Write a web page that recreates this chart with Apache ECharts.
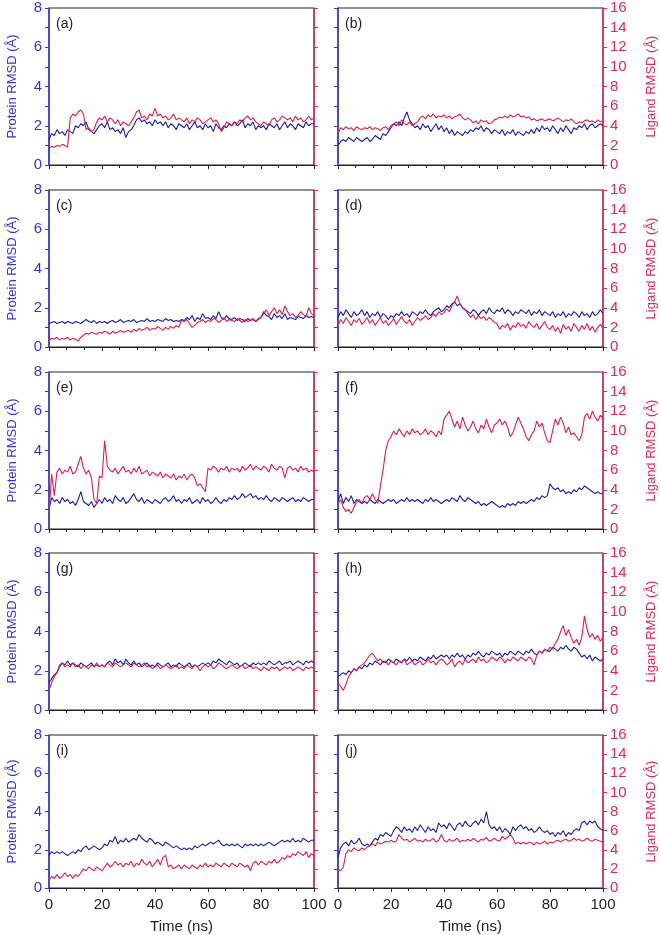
<!DOCTYPE html>
<html>
<head>
<meta charset="utf-8">
<script src="https://cdn.jsdelivr.net/npm/echarts@6/dist/echarts.min.js"></script>
<style>
  html, body { margin: 0; padding: 0; background: #fff; }
  #chart { width: 660px; height: 935px; }
</style>
</head>
<body>
<div id="chart"></div>
<script>
// time axis, 0..100 ns, one point per ns
const time = [
  0,1,2,3,4,5,6,7,8,9,10,11,12,13,14,15,16,17,18,19,20,21,22,23,24,25,26,27,28,29,
  30,31,32,33,34,35,36,37,38,39,40,41,42,43,44,45,46,47,48,49,50,51,52,53,54,55,56,57,58,59,
  60,61,62,63,64,65,66,67,68,69,70,71,72,73,74,75,76,77,78,79,80,81,82,83,84,85,86,87,88,89,
  90,91,92,93,94,95,96,97,98,99,100
]
const labels = ['(a)', '(b)', '(c)', '(d)', '(e)', '(f)', '(g)', '(h)', '(i)', '(j)']

// protein RMSD (Å, left axis 0-8) and ligand RMSD (Å, right axis 0-16)
const protA = [1.3,1.6,1.5,1.8,1.6,1.7,1.5,1.8,1.7,1.6, 2.0,1.9,2.1,2.0,2.2,1.8,1.7,1.6,1.8,2.0, 2.1,1.9,2.2,1.8,1.9,1.7,1.8,1.6,1.9,1.4, 1.7,1.8,2.0,2.3,2.4,2.2,2.3,2.1,2.2,2.0, 2.3,2.1,2.2,2.0,2.2,1.9,2.1,2.0,1.8,2.1, 2.0,1.9,2.1,1.8,2.0,2.2,1.9,2.0,1.8,2.1, 1.9,2.0,1.7,2.1,1.9,1.8,2.0,1.9,2.1,2.0, 2.2,2.0,2.1,2.3,1.9,2.1,2.0,2.2,1.8,2.0, 1.9,2.0,1.8,2.1,2.0,1.9,2.1,1.8,2.0,2.2, 1.9,2.1,2.0,1.8,2.1,2.0,1.9,2.2,2.0,2.1,2.1]
const ligA = [1.7,1.9,1.8,2.0,1.9,2.1,2.0,1.8,4.8,5.2, 5.0,5.4,5.6,5.2,3.6,3.8,3.4,3.6,4.4,4.8, 4.6,5.0,4.4,4.8,4.6,4.2,4.6,4.0,4.4,4.2, 4.0,4.4,4.8,5.4,5.6,4.8,5.0,4.6,5.2,5.0, 5.8,5.0,5.2,4.8,5.0,4.6,4.8,5.2,4.6,4.8, 4.6,4.4,4.8,4.2,4.6,4.4,4.8,4.6,4.2,4.4, 4.6,4.8,4.4,4.6,4.2,3.4,3.8,4.4,4.2,4.0, 4.4,4.2,4.6,4.4,4.8,5.0,4.6,4.8,4.4,4.2, 4.0,4.4,4.2,4.0,4.6,4.8,4.4,4.6,5.0,4.8, 4.6,4.8,4.4,5.0,4.6,4.8,4.4,4.6,5.0,4.6,4.8]

const protB = [1.0,1.2,1.3,1.2,1.4,1.3,1.2,1.4,1.3,1.2, 1.3,1.4,1.2,1.3,1.5,1.4,1.3,1.6,1.5,1.7, 1.9,2.1,2.0,2.2,2.0,2.4,2.7,2.3,2.1,1.9, 2.0,1.8,2.1,1.9,2.0,1.7,1.9,2.1,1.8,2.0, 1.7,1.9,1.6,1.8,1.5,1.7,1.6,1.5,1.7,1.6, 1.8,1.7,1.9,1.8,2.0,1.7,1.9,1.8,1.6,1.8, 1.7,1.6,1.8,1.5,1.7,1.6,1.8,1.5,1.7,1.6, 1.5,1.7,1.6,1.8,1.6,1.9,1.7,2.0,1.8,1.9, 1.7,2.0,1.8,1.6,1.9,1.7,2.0,1.8,1.6,1.9, 1.8,2.0,1.9,2.1,1.8,2.0,2.1,1.9,2.0,2.1,2.0]
const ligB = [3.2,3.8,3.6,3.9,3.7,3.8,3.5,3.9,3.7,3.6, 3.8,3.7,3.9,3.6,3.8,3.7,3.5,3.8,3.9,3.6, 4.0,4.2,4.4,4.0,4.6,4.2,4.1,4.4,4.0,4.2, 4.4,4.8,5.0,4.7,5.1,4.9,5.2,4.8,5.0,4.9, 5.1,4.8,5.0,4.7,4.9,5.0,5.2,4.8,4.6,4.8, 4.6,4.3,4.5,4.2,4.6,4.4,4.5,4.2,4.3,4.6, 4.7,4.9,4.8,5.0,4.8,5.1,4.9,5.0,5.2,4.9, 5.0,4.8,4.9,4.6,4.7,4.5,4.6,4.7,4.5,4.6, 4.7,4.5,4.6,4.8,4.6,4.4,4.6,4.5,4.7,4.4, 4.2,4.4,4.3,4.5,4.6,4.4,4.5,4.3,4.6,4.4,4.5]

const protC = [1.2,1.25,1.3,1.2,1.25,1.3,1.2,1.3,1.25,1.2, 1.3,1.25,1.2,1.3,1.4,1.3,1.25,1.35,1.2,1.3, 1.25,1.3,1.2,1.3,1.35,1.25,1.3,1.4,1.25,1.3, 1.35,1.3,1.4,1.25,1.3,1.35,1.3,1.45,1.3,1.35, 1.3,1.4,1.35,1.3,1.45,1.35,1.4,1.3,1.35,1.3, 1.4,1.35,1.5,1.4,1.6,1.3,1.5,1.4,1.7,1.45, 1.5,1.4,1.6,1.45,1.8,1.5,1.4,1.6,1.45,1.4, 1.5,1.35,1.45,1.4,1.3,1.45,1.35,1.4,1.3,1.45, 1.5,1.8,1.6,1.55,1.4,1.7,1.5,1.6,1.45,1.7, 1.4,1.5,1.45,1.4,1.55,1.5,1.45,1.6,1.5,1.55,1.5]
const ligC = [0.6,0.9,0.8,1.0,0.7,0.9,0.8,1.0,0.7,0.9, 0.8,0.6,1.0,1.2,1.4,1.3,1.5,1.4,1.3,1.5, 1.4,1.6,1.5,1.3,1.6,1.4,1.5,1.7,1.5,1.6, 1.7,1.5,1.8,1.6,1.9,1.7,1.8,2.0,1.7,1.9, 1.8,2.1,1.9,1.7,2.0,1.8,2.1,1.9,2.2,2.0, 2.7,2.6,2.8,2.4,2.0,2.2,2.5,2.6,2.8,2.5, 2.7,2.6,2.9,2.8,2.5,2.7,3.0,2.6,2.8,2.7, 2.6,2.9,2.7,2.5,2.8,2.6,2.7,2.9,2.6,2.8, 3.0,3.4,3.8,3.2,3.6,4.0,3.4,3.8,3.3,4.2, 3.6,3.2,3.4,3.0,3.2,3.6,3.3,3.1,4.0,3.4,3.2]

const protD = [1.5,1.8,1.6,1.9,1.7,1.5,1.8,1.6,1.7,1.9, 1.6,1.8,1.5,1.7,1.6,1.8,1.5,1.7,1.6,1.4, 1.6,1.5,1.7,1.6,1.8,1.6,1.7,1.5,1.8,1.7, 1.6,1.8,1.7,1.9,1.7,1.6,1.8,1.9,2.0,1.8, 1.9,2.1,2.0,2.2,2.3,2.1,2.2,2.0,1.9,1.8, 1.7,1.9,1.8,1.6,1.8,1.9,1.7,2.0,1.8,1.7, 1.9,1.8,2.0,1.7,1.9,1.8,1.6,1.8,1.7,1.9, 1.8,1.7,1.9,1.6,1.8,1.7,1.9,1.6,1.8,1.7, 1.6,1.8,1.5,1.7,1.6,1.8,1.5,1.7,1.6,1.8, 1.7,1.5,1.8,1.6,1.7,1.5,1.8,1.6,1.7,1.9,1.7]
const ligD = [2.2,2.8,2.4,3.0,2.6,2.2,2.8,2.5,2.9,2.3, 2.6,3.0,2.4,2.8,2.2,2.6,3.0,2.4,2.7,2.2, 2.5,2.9,2.3,2.7,3.1,2.6,2.4,2.8,2.2,2.6, 3.0,2.7,2.9,3.2,2.8,3.0,3.4,3.1,3.6,3.3, 3.5,3.9,3.6,4.2,4.6,5.2,4.4,4.0,3.8,3.4, 3.0,3.3,2.8,3.2,2.9,3.1,2.7,3.0,2.8,2.5, 2.4,1.8,2.2,2.0,2.4,1.7,2.2,2.0,2.5,2.1, 2.3,1.9,2.6,2.2,2.0,2.4,1.8,2.2,2.6,2.0, 1.8,2.2,1.6,2.0,1.4,2.3,1.8,2.1,1.6,2.4, 2.0,1.6,2.2,1.8,2.4,1.7,2.1,1.5,2.0,2.3,1.9]

const protE = [1.0,1.6,1.4,1.5,1.3,1.6,1.4,1.5,1.3,1.4, 1.2,1.5,1.9,1.4,1.3,1.2,1.4,1.1,1.3,1.5, 1.3,1.6,1.4,1.5,1.3,1.7,1.5,1.4,1.6,1.3, 1.4,1.6,1.8,1.5,1.4,1.6,1.3,1.5,1.4,1.3, 1.5,1.4,1.3,1.5,1.6,1.4,1.5,1.7,1.4,1.5, 1.3,1.5,1.4,1.6,1.3,1.4,1.5,1.3,1.6,1.4, 1.5,1.3,1.4,1.6,1.4,1.3,1.5,1.4,1.6,1.5, 1.7,1.5,1.6,1.8,1.6,1.7,1.8,1.6,1.7,1.5, 1.6,1.5,1.7,1.5,1.4,1.6,1.5,1.4,1.6,1.5, 1.4,1.5,1.6,1.4,1.5,1.4,1.6,1.5,1.4,1.5,1.5]
const ligE = [1.6,5.6,3.4,5.8,6.2,5.6,6.0,5.8,6.4,5.6, 5.8,6.6,7.4,6.2,5.6,6.0,5.2,3.0,2.6,5.4, 5.2,9.0,6.4,6.0,5.8,6.2,5.6,6.0,6.4,5.8, 6.0,5.6,6.2,5.8,6.4,5.6,5.8,6.0,5.4,5.8, 5.6,5.4,5.8,5.2,5.6,5.4,5.2,5.6,5.0,5.4, 5.2,5.6,5.0,5.4,5.6,5.2,4.4,4.6,4.2,3.8, 6.2,6.0,6.4,6.2,5.8,6.2,6.0,6.4,5.8,6.2, 6.0,6.2,5.8,6.4,6.0,6.2,6.6,6.0,6.4,6.2, 6.0,6.4,6.2,5.8,6.6,6.2,6.0,6.4,6.2,5.2, 6.2,6.4,6.0,6.2,5.8,6.4,6.0,6.2,5.8,6.0,5.8]

const protF = [1.4,1.8,1.3,1.6,1.4,1.7,1.3,1.5,1.4,1.3, 1.4,1.3,1.5,1.4,1.3,1.5,1.4,1.3,1.4,1.5, 1.4,1.5,1.3,1.4,1.5,1.4,1.6,1.4,1.5,1.4, 1.5,1.4,1.3,1.5,1.4,1.6,1.4,1.5,1.4,1.3, 1.4,1.5,1.4,1.6,1.5,1.4,1.7,1.5,1.4,1.6, 1.5,1.4,1.3,1.4,1.2,1.3,1.2,1.3,1.4,1.3, 1.2,1.1,1.2,1.1,1.3,1.2,1.3,1.2,1.4,1.3, 1.4,1.3,1.4,1.5,1.4,1.6,1.5,1.7,1.6,1.7, 2.3,2.1,2.0,2.1,1.9,2.0,1.8,1.9,1.8,2.0, 1.9,2.1,2.0,2.2,2.1,2.0,1.9,1.8,1.9,1.8,1.8]
const ligF = [2.6,3.0,2.2,1.8,2.0,1.6,2.2,2.8,3.0,2.6, 3.2,3.4,3.0,3.6,3.0,2.6,4.4,6.0,8.0,9.0, 9.4,10.0,9.6,10.2,9.8,9.4,10.0,9.6,10.2,9.8, 10.0,9.6,9.8,10.2,9.6,10.0,9.8,9.4,10.0,9.6, 11.2,11.6,12.0,11.2,10.4,11.0,10.2,11.4,10.6,10.0, 10.4,11.0,10.2,9.8,10.6,10.2,11.2,10.4,9.8,10.6, 10.8,11.2,10.6,11.0,10.4,9.4,9.8,10.6,11.4,10.8, 10.2,9.4,9.0,9.6,10.0,11.0,10.4,10.8,9.8,9.0, 8.8,10.0,11.2,10.6,11.4,10.8,9.8,10.4,9.6,9.8, 9.4,9.0,9.6,11.4,11.8,11.2,12.0,11.4,11.0,11.6,11.2]

const protG = [1.4,1.6,1.8,1.9,2.2,2.4,2.3,2.5,2.3,2.4, 2.3,2.2,2.4,2.3,2.2,2.3,2.4,2.2,2.3,2.2, 2.3,2.2,2.4,2.5,2.3,2.6,2.4,2.5,2.3,2.6, 2.4,2.3,2.5,2.3,2.4,2.2,2.3,2.4,2.2,2.3, 2.2,2.4,2.3,2.2,2.3,2.4,2.2,2.3,2.2,2.4, 2.3,2.2,2.3,2.4,2.2,2.3,2.2,2.3,2.4,2.3, 2.4,2.3,2.5,2.4,2.6,2.5,2.4,2.3,2.5,2.4, 2.3,2.4,2.2,2.3,2.4,2.3,2.2,2.4,2.3,2.4, 2.3,2.4,2.3,2.5,2.4,2.3,2.4,2.5,2.3,2.4, 2.4,2.5,2.3,2.4,2.5,2.4,2.3,2.5,2.4,2.5,2.4]
const ligG = [2.0,2.8,3.4,3.8,4.6,4.8,4.4,4.6,4.4,4.8, 4.4,4.6,4.2,4.6,4.4,4.2,4.6,4.4,4.8,4.4, 4.6,4.4,4.8,4.6,4.4,4.8,4.6,4.4,4.6,4.8, 4.6,4.4,4.8,4.6,4.4,4.6,4.8,4.4,4.6,4.2, 4.4,4.6,4.2,4.4,4.6,4.4,4.2,4.4,4.6,4.2, 4.4,4.2,4.6,4.4,4.2,4.6,4.4,4.0,4.4,4.6, 4.4,4.6,4.2,4.4,4.8,4.6,4.4,4.2,4.4,4.6, 4.4,4.2,4.4,4.6,4.2,4.4,4.6,4.2,4.4,4.2, 4.0,4.4,4.2,4.0,4.4,4.2,4.4,4.0,4.2,4.4, 4.2,4.4,4.0,4.2,4.4,4.2,4.0,4.4,4.2,4.4,4.2]

const protH = [1.7,1.8,1.9,1.8,2.0,1.9,2.1,2.0,2.2,2.1, 2.3,2.2,2.4,2.3,2.5,2.4,2.3,2.5,2.4,2.6, 2.5,2.4,2.6,2.5,2.4,2.6,2.5,2.7,2.5,2.6, 2.5,2.7,2.6,2.5,2.7,2.6,2.8,2.6,2.7,2.8, 2.7,2.8,2.6,2.8,2.7,2.9,2.7,2.8,2.6,2.8, 2.7,2.9,2.8,3.0,2.8,2.7,2.9,2.8,3.0,2.9, 2.8,2.9,2.7,2.9,2.8,3.0,2.9,2.8,3.0,2.9, 2.8,3.0,2.9,3.1,2.9,2.8,3.0,2.9,3.1,3.0, 3.0,3.2,3.1,3.0,3.2,3.1,3.3,3.1,3.0,3.2, 3.1,2.9,2.7,2.8,2.6,2.8,2.5,2.7,2.6,2.5,2.6]
const ligH = [2.8,2.4,2.0,2.6,3.4,3.8,4.2,4.0,4.4,4.6, 4.8,5.2,5.6,5.8,5.4,5.0,5.2,4.8,5.0,4.6, 5.0,4.8,4.6,5.0,4.8,5.2,4.6,4.8,5.0,4.6, 4.8,5.0,4.6,4.8,5.2,4.8,5.0,4.6,5.0,5.2, 5.0,4.6,4.8,5.2,4.4,4.8,5.0,4.6,5.2,4.8, 5.0,5.2,4.8,5.4,5.0,5.2,4.8,5.0,5.4,5.2, 5.0,5.4,5.2,4.8,5.2,5.0,5.4,5.2,5.0,5.4, 5.2,5.0,5.4,5.2,4.6,5.6,6.0,5.8,6.2,6.0, 6.4,6.2,6.8,7.2,8.0,8.6,7.6,8.2,7.4,6.8, 7.2,6.6,7.4,9.6,8.2,7.4,7.8,7.2,7.6,7.0,7.4]

const protI = [1.7,1.9,1.8,1.9,1.8,1.9,1.8,1.7,1.8,1.9, 1.8,2.0,1.9,2.1,2.2,2.0,2.1,2.2,2.1,2.0, 2.1,2.3,2.2,2.5,2.4,2.7,2.3,2.5,2.4,2.6, 2.4,2.5,2.6,2.5,2.8,2.6,2.5,2.4,2.6,2.5, 2.3,2.4,2.3,2.2,2.4,2.3,2.2,2.1,2.2,2.1, 2.0,2.1,2.0,2.1,2.0,2.2,2.1,2.2,2.3,2.2, 2.3,2.4,2.3,2.4,2.5,2.3,2.2,2.3,2.2,2.3, 2.2,2.3,2.2,2.1,2.3,2.2,2.3,2.2,2.3,2.2, 2.3,2.2,2.3,2.4,2.3,2.2,2.3,2.4,2.5,2.4, 2.5,2.4,2.6,2.4,2.5,2.4,2.6,2.5,2.4,2.5,2.5]
const ligI = [0.8,1.2,1.0,1.4,1.0,1.2,1.6,1.2,1.4,1.0, 1.4,1.2,1.6,2.0,1.8,2.2,2.0,1.8,2.2,2.0, 1.8,2.2,2.6,2.2,2.4,2.8,2.4,2.6,2.2,2.6, 2.4,2.8,2.2,2.6,2.4,3.0,2.6,2.4,2.8,2.2, 2.6,3.0,2.4,3.2,3.4,2.2,2.4,2.0,2.2,2.4, 2.0,2.4,2.2,2.0,2.4,2.2,2.0,2.4,2.2,2.6, 2.2,2.4,2.2,2.6,2.4,2.2,2.6,2.4,2.2,2.6, 2.4,2.2,2.6,2.4,2.2,2.4,1.8,2.6,2.8,2.4, 2.8,2.6,2.4,2.8,2.6,3.0,2.6,2.8,3.2,3.0, 3.4,3.2,3.6,3.4,3.8,3.6,3.4,3.8,3.2,3.6,3.4]

const protJ = [1.6,2.1,2.3,2.4,2.2,2.5,2.3,2.4,2.6,2.3, 2.2,2.3,2.2,2.4,2.6,2.5,2.8,2.7,2.9,2.8, 2.7,3.0,3.2,3.1,2.9,3.2,3.0,3.1,2.9,3.2, 3.0,3.3,3.1,2.9,3.2,3.0,3.1,2.9,3.4,3.2, 3.3,3.1,3.4,3.2,3.0,3.3,3.4,3.2,3.5,3.3, 3.2,3.4,3.5,3.3,3.6,3.4,4.0,3.3,3.1,3.2, 3.0,3.2,2.9,3.1,3.0,2.8,3.2,3.0,3.2,3.3, 3.1,3.2,3.0,3.1,2.9,3.0,3.2,3.0,2.9,3.0, 2.8,2.9,2.7,2.9,2.8,3.0,2.7,2.9,2.8,3.0, 3.1,3.0,3.4,3.5,3.3,3.5,3.4,3.5,3.2,3.1,3.0]
const ligJ = [2.0,1.8,2.2,3.6,4.0,3.8,4.2,4.0,3.9,4.2, 4.0,4.3,4.4,4.6,4.4,4.8,4.6,4.7,4.9,4.8, 5.0,4.8,4.9,5.6,5.2,5.0,5.1,4.8,5.0,5.2, 4.9,5.0,4.8,5.1,4.9,5.0,5.2,4.8,5.0,5.6, 5.0,4.8,5.1,4.9,5.0,5.2,4.8,5.0,4.9,5.1, 4.9,5.2,5.0,4.8,5.1,5.0,5.3,4.9,5.0,5.2, 5.0,4.9,5.4,5.1,5.3,5.6,5.2,4.6,4.8,4.6, 4.8,4.6,4.8,4.7,4.5,4.8,4.6,4.7,4.9,4.6, 4.8,4.7,4.9,5.0,4.8,5.0,5.1,4.9,5.0,5.2, 5.0,5.1,4.9,5.0,5.2,5.0,4.9,5.1,5.0,4.9,4.8]

const protSets = [protA, protB, protC, protD, protE, protF, protG, protH, protI, protJ]
const ligSets = [ligA, ligB, ligC, ligD, ligE, ligF, ligG, ligH, ligI, ligJ]

const BLUE_AXIS = '#3434d4'
const RED_AXIS = '#e0285a'
const BLUE_LINE = '#1c1ca6'
const RED_LINE = '#dc1e50'
const DARK = '#222'
const FONT = 'Liberation Sans, Arial, sans-serif'

const rowTops = [8, 190, 372, 553, 735]
const colLefts = [49, 338]
const panelW = 265
const panelH = 157

const grids = []
const xAxes = []
const yAxes = []
const series = []
const texts = []

function pairs(vals) {
  return vals.map((v, i) => [time[i], v])
}

function timeAxis(p, pos, last) {
  return {
    gridIndex: p, type: 'value', position: pos, min: 0, max: 100, interval: 20,
    axisLine: { show: true, lineStyle: { color: DARK, width: 1 } },
    axisTick: { show: true, inside: pos === 'top', length: 4, lineStyle: { color: DARK } },
    minorTick: { show: true, splitNumber: 3 },
    splitLine: { show: false },
    axisLabel: { show: last, color: DARK, fontSize: 15, fontFamily: FONT, margin: 9 },
    name: last ? 'Time (ns)' : '', nameLocation: 'middle', nameGap: 31,
    nameTextStyle: { color: DARK, fontSize: 15, fontFamily: FONT }
  }
}

for (let p = 0; p < 10; p++) {
  const row = Math.floor(p / 2)
  const col = p % 2
  const last = row === 4
  const left = colLefts[col]
  const top = rowTops[row]
  // grid border gives the dark frame of each panel
  grids.push({
    left: left, top: top, width: panelW, height: panelH,
    show: true, borderColor: DARK, borderWidth: 1, backgroundColor: 'transparent'
  })

  // bottom + top x axes (same 0-100 scale)
  xAxes.push(timeAxis(p, 'bottom', last))
  xAxes.push(timeAxis(p, 'top', false))

  // left axis: protein 0-8
  yAxes.push({
    gridIndex: p, type: 'value', position: 'left', min: 0, max: 8,
    interval: col === 0 ? 2 : 1,
    axisLine: { show: true, onZero: false, lineStyle: { color: BLUE_AXIS, width: 1.5 } },
    axisTick: { show: true, length: 4, lineStyle: { color: BLUE_AXIS } },
    minorTick: { show: col === 0, splitNumber: 2, length: 4, lineStyle: { color: BLUE_AXIS } },
    splitLine: { show: false },
    axisLabel: { show: col === 0, color: BLUE_AXIS, fontSize: 15, fontFamily: FONT, margin: 7 },
    name: col === 0 ? 'Protein RMSD (\u00c5)' : '', nameLocation: 'middle', nameRotate: 90, nameGap: 30,
    nameTextStyle: { color: BLUE_AXIS, fontSize: 13, fontFamily: FONT }
  })
  // right axis: ligand 0-16
  yAxes.push({
    gridIndex: p, type: 'value', position: 'right', min: 0, max: 16, interval: 2,
    axisLine: { show: true, onZero: false, lineStyle: { color: RED_AXIS, width: 1.5 } },
    axisTick: { show: true, length: 4, lineStyle: { color: RED_AXIS } },
    splitLine: { show: false },
    axisLabel: { show: col === 1, color: RED_AXIS, fontSize: 15, fontFamily: FONT, margin: 7 },
    name: col === 1 ? 'Ligand RMSD (\u00c5)' : '', nameLocation: 'middle', nameRotate: 90, nameGap: 42,
    nameTextStyle: { color: RED_AXIS, fontSize: 13, fontFamily: FONT }
  })

  // protein on bottom x / left y, ligand on top x / right y
  series.push({
    type: 'line', xAxisIndex: 2 * p, yAxisIndex: 2 * p, data: pairs(protSets[p]),
    showSymbol: false, symbol: 'none', lineStyle: { color: BLUE_LINE, width: 1.1 }, animation: false
  })
  series.push({
    type: 'line', xAxisIndex: 2 * p + 1, yAxisIndex: 2 * p + 1, data: pairs(ligSets[p]),
    showSymbol: false, symbol: 'none', lineStyle: { color: RED_LINE, width: 1.1 }, animation: false
  })

  texts.push({
    type: 'text', left: left + 7, top: top + 9,
    style: { text: labels[p], fill: DARK, fontSize: 14, fontFamily: FONT }
  })
}

const chart = echarts.init(document.getElementById('chart'))
chart.setOption({
  backgroundColor: '#fff',
  animation: false,
  grid: grids,
  xAxis: xAxes,
  yAxis: yAxes,
  series: series,
  graphic: texts
})
</script>
</body>
</html>
